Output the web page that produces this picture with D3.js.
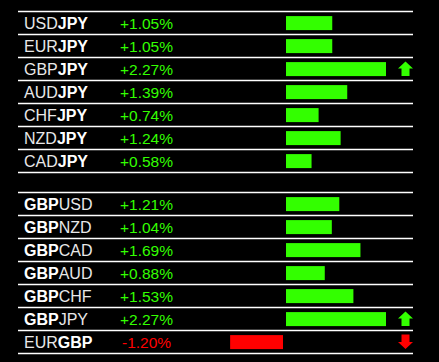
<!DOCTYPE html>
<html>
<head>
<meta charset="utf-8">
<script src="https://cdn.jsdelivr.net/npm/d3@7"></script>
<style>
  html, body { margin: 0; padding: 0; background: #000; }
  svg { display: block; }
</style>
</head>
<body>
<svg id="chart" width="439" height="362"></svg>
<script>
// ---- data ----
const jpyPairs   = ["USDJPY", "EURJPY", "GBPJPY", "AUDJPY", "CHFJPY", "NZDJPY", "CADJPY"];
const jpyValues  = [1.05, 1.05, 2.27, 1.39, 0.74, 1.24, 0.58];
const jpyArrows  = ["", "", "up", "", "", "", ""];
const jpyBold    = "JPY";

const gbpPairs   = ["GBPUSD", "GBPNZD", "GBPCAD", "GBPAUD", "GBPCHF", "GBPJPY", "EURGBP"];
const gbpValues  = [1.21, 1.04, 1.69, 0.88, 1.53, 2.27, -1.20];
const gbpArrows  = ["", "", "", "", "", "up", "down"];
const gbpBold    = "GBP";

// ---- layout ----
const svg = d3.select("#chart");
const W = 439, H = 362;
svg.append("rect").attr("width", W).attr("height", H).attr("fill", "#000");

const lineX0 = 18, lineX1 = 413;
const labelX = 24, pctX = 120;
const green = "#33ff00", red = "#ff0000";

const maxVal = d3.max(jpyValues.concat(gbpValues).map(Math.abs));
const xPos = d3.scaleLinear().domain([0, maxVal]).range([286, 386]);
const negEnd = 283;

function drawGroup(pairs, values, arrows, boldCur, y0, y1) {
  const y = d3.scaleBand().domain(pairs).range([y0, y1]).paddingInner(0).paddingOuter(0);
  const g = svg.append("g");
  const rows = pairs.map((p, i) => ({ pair: p, value: values[i], arrow: arrows[i] }));

  // separators
  const lines = [y0].concat(pairs.map(p => y(p) + y.bandwidth()));
  g.selectAll("line.sep").data(lines).join("line")
    .attr("x1", lineX0).attr("x2", lineX1)
    .attr("y1", d => Math.floor(d) + 0.5).attr("y2", d => Math.floor(d) + 0.5)
    .attr("stroke", "#fff").attr("stroke-width", 1.5);

  const row = g.selectAll("g.row").data(rows).join("g")
    .attr("transform", d => `translate(0,${y(d.pair)})`);

  const bw = y.bandwidth();
  const baseline = bw / 2 + 6.7;

  // pair label with bold currency
  const lbl = row.append("text")
    .attr("x", labelX).attr("y", baseline)
    .attr("font-family", "Liberation Sans, Arial, sans-serif")
    .attr("font-size", 16)
    .attr("fill", "#f2f2f2");
  lbl.each(function(d) {
    const t = d3.select(this);
    const idx = d.pair.indexOf(boldCur);
    const parts = idx === 0
      ? [[d.pair.slice(0, 3), true], [d.pair.slice(3), false]]
      : [[d.pair.slice(0, 3), false], [d.pair.slice(3), true]];
    parts.forEach(([s, b]) => {
      t.append("tspan").text(s)
        .attr("font-weight", b ? "bold" : "normal")
        .attr("fill", b ? "#ffffff" : "#e8e8e8");
    });
  });

  // percentage text
  row.append("text")
    .attr("x", d => d.value < 0 ? pctX + 2 : pctX).attr("y", baseline)
    .attr("font-family", "Liberation Sans, Arial, sans-serif")
    .attr("font-size", 15.5)
    .attr("fill", d => d.value < 0 ? red : green)
    .text(d => (d.value >= 0 ? "+" : "") + d.value.toFixed(2) + "%");

  // bars
  const barH = 14, barTop = (bw - barH) / 2 + 0.3;
  row.append("rect")
    .attr("x", d => d.value >= 0 ? xPos(0) : negEnd - (xPos(-d.value) - xPos(0)))
    .attr("width", d => xPos(Math.abs(d.value)) - xPos(0))
    .attr("y", barTop).attr("height", barH)
    .attr("fill", d => d.value >= 0 ? green : red);

  // arrows
  const cx = 405.5;
  row.filter(d => d.arrow !== "").append("path")
    .attr("transform", `translate(${cx},${barTop - 0.5})`)
    .attr("d", d => d.arrow === "up"
      ? "M0,0 L7.5,7 L4,7 L4,14.5 L-4,14.5 L-4,7 L-7.5,7 Z"
      : "M-4,0 L4,0 L4,7.5 L7.5,7.5 L0,14.5 L-7.5,7.5 L-4,7.5 Z")
    .attr("fill", d => d.arrow === "up" ? green : red);
}

drawGroup(jpyPairs, jpyValues, jpyArrows, jpyBold, 11.3, 172.3);
drawGroup(gbpPairs, gbpValues, gbpArrows, gbpBold, 192.3, 353.3);
</script>
</body>
</html>
